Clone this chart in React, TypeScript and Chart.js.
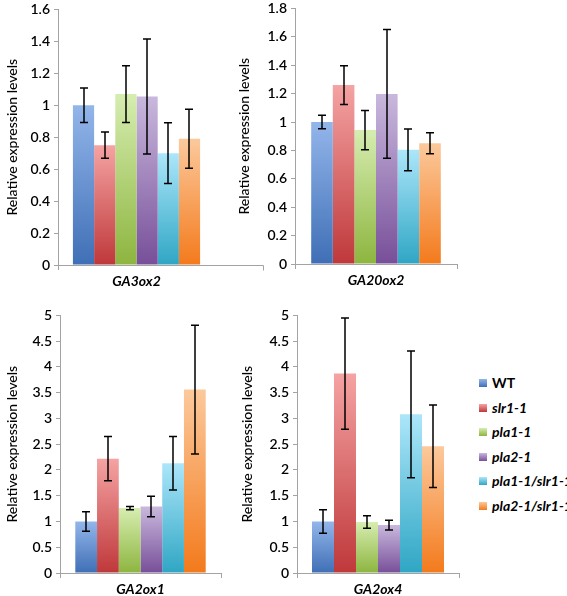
import React, { useEffect, useRef } from 'react';
import { Chart, registerables } from 'chart.js';

Chart.register(...registerables);

// ---------- data ----------
const genotypes = ['WT', 'slr1-1', 'pla1-1', 'pla2-1', 'pla1-1/slr1-1', 'pla2-1/slr1-1'];
const italicLabels = [false, true, true, true, true, true];
const topColors = ['#93b6ea', '#f5a3a3', '#d6edb0', '#c9b8dd', '#ace6fa', '#fcc99c'];
const bottomColors = ['#3f6fb6', '#bf383a', '#8db53f', '#774f99', '#2fa6c4', '#f37a1c'];

const yAxisTitle = 'Relative expression levels';

const geneA = 'GA3ox2';
const meansA = [1.0, 0.75, 1.07, 1.055, 0.7, 0.79];
const errorsA = [0.108, 0.082, 0.178, 0.36, 0.19, 0.185];

const geneB = 'GA20ox2';
const meansB = [1.0, 1.26, 0.943, 1.198, 0.804, 0.85];
const errorsB = [0.047, 0.136, 0.138, 0.454, 0.147, 0.074];

const geneC = 'GA2ox1';
const meansC = [1.0, 2.22, 1.26, 1.29, 2.13, 3.56];
const errorsC = [0.19, 0.43, 0.03, 0.2, 0.52, 1.25];

const geneD = 'GA2ox4';
const meansD = [1.0, 3.87, 0.99, 0.93, 3.08, 2.46];
const errorsD = [0.23, 1.08, 0.12, 0.095, 1.23, 0.8];

const yMaxTop = [1.6, 1.8];
const yStepTop = 0.2;
const yMaxBottom = 5;
const yStepBottom = 0.5;

// ---------- styling ----------
const axisColor = '#a3a3a3';
const FONT = 'Lato';

const errorBarPlugin = {
  id: 'errorBars',
  afterDatasetsDraw(chart: any) {
    const { ctx } = chart;
    const yScale = chart.scales.y;
    ctx.save();
    ctx.strokeStyle = '#000';
    ctx.lineWidth = 1.5;
    chart.data.datasets.forEach((ds: any, i: number) => {
      const meta = chart.getDatasetMeta(i);
      meta.data.forEach((bar: any, j: number) => {
        const v = ds.data[j];
        const e = ds.errors[j];
        const yT = yScale.getPixelForValue(v + e);
        const yB = yScale.getPixelForValue(v - e);
        const x = Math.round(bar.x);
        ctx.beginPath();
        ctx.moveTo(x, yT);
        ctx.lineTo(x, yB);
        ctx.moveTo(x - 4, yT);
        ctx.lineTo(x + 4, yT);
        ctx.moveTo(x - 4, yB);
        ctx.lineTo(x + 4, yB);
        ctx.stroke();
      });
    });
    ctx.restore();
  },
};

const axisExtendPlugin = {
  id: 'axisExtend',
  afterDraw(chart: any, _args: any, opts: any) {
    const ext = (opts && opts.extend) || 0;
    if (!ext) return;
    const { ctx, chartArea } = chart;
    const y = Math.round(chartArea.bottom - 0.5) + 0.5;
    const xEnd = Math.round(chartArea.right + ext) + 0.5;
    ctx.save();
    ctx.strokeStyle = axisColor;
    ctx.lineWidth = 1;
    ctx.beginPath();
    ctx.moveTo(chartArea.right, y);
    ctx.lineTo(xEnd, y);
    ctx.moveTo(xEnd, y);
    ctx.lineTo(xEnd, y + 5);
    ctx.stroke();
    ctx.restore();
  },
};

function gradientFor(i: number) {
  return (context: any) => {
    const chart = context.chart;
    const area = chart.chartArea;
    if (!area || context.type !== 'data') return bottomColors[i];
    const yScale = chart.scales.y;
    const v = context.parsed ? context.parsed.y : context.raw;
    const top = yScale.getPixelForValue(v);
    const g = chart.ctx.createLinearGradient(0, top, 0, area.bottom);
    g.addColorStop(0, topColors[i]);
    g.addColorStop(1, bottomColors[i]);
    return g;
  };
}

type PanelProps = {
  gene: string;
  means: number[];
  errors: number[];
  yMax: number;
  yStep: number;
  left: number;
  top: number;
  width: number;
  height: number;
  yAxisWidth: number;
  padRight: number;
  catPct: number;
  extend?: number;
};

function BarPanel(p: PanelProps) {
  const ref = useRef<HTMLCanvasElement | null>(null);
  useEffect(() => {
    if (!ref.current) return;
    const chart = new Chart(ref.current, {
      type: 'bar',
      data: {
        labels: [p.gene],
        datasets: genotypes.map((g, i) => ({
          label: g,
          data: [p.means[i]],
          errors: [p.errors[i]],
          backgroundColor: gradientFor(i),
          borderWidth: 0,
          categoryPercentage: p.catPct,
          barPercentage: 1,
        })) as any,
      },
      options: {
        responsive: false,
        animation: false,
        layout: { padding: { top: 0, right: p.padRight, left: 0, bottom: 0 } },
        plugins: {
          legend: { display: false },
          tooltip: { enabled: false },
          axisExtend: { extend: p.extend || 0 },
        } as any,
        scales: {
          x: {
            grid: {
              display: true,
              drawOnChartArea: false,
              drawTicks: true,
              tickLength: 5,
              offset: true,
              color: (c: any) => (p.extend && c.type !== 'tick' ? 'rgba(0,0,0,0)' : axisColor),
            },
            border: { color: axisColor },
            ticks: {
              font: { family: FONT, size: 14, style: 'italic', weight: 'bold' },
              color: '#000',
              padding: 3,
            },
            afterFit: (s: any) => {
              s.height = 27;
            },
          },
          y: {
            min: 0,
            max: p.yMax,
            ticks: {
              stepSize: p.yStep,
              font: { family: FONT, size: 14, weight: 600 },
              color: '#000',
              padding: 4,
              callback: (v: any) => String(Number(Number(v).toFixed(2))),
            },
            grid: { drawOnChartArea: false, tickLength: 4, color: axisColor },
            border: { color: axisColor },
            title: {
              display: true,
              text: yAxisTitle,
              font: { family: FONT, size: 14, weight: 500 },
              color: '#000',
              padding: { top: 4, bottom: 0 },
            },
            afterFit: (s: any) => {
              s.width = p.yAxisWidth;
            },
          },
        },
      } as any,
      plugins: [errorBarPlugin, axisExtendPlugin],
    });
    return () => chart.destroy();
  }, []);
  return (
    <div style={{ position: 'absolute', left: p.left, top: p.top, width: p.width, height: p.height }}>
      <canvas ref={ref} width={p.width} height={p.height} style={{ display: 'block' }} />
    </div>
  );
}

function Legend() {
  return (
    <div style={{ position: 'absolute', left: 479, top: 373, width: 100 }}>
      {genotypes.map((g, i) => (
        <div key={g} style={{ position: 'relative', height: 24.6, whiteSpace: 'nowrap' }}>
          <span
            style={{
              position: 'absolute',
              left: 0,
              top: 6,
              width: 8,
              height: 8,
              background: `linear-gradient(${topColors[i]}, ${bottomColors[i]})`,
            }}
          />
          <span
            style={{
              position: 'absolute',
              left: 13,
              top: 0,
              fontFamily: FONT,
              fontSize: 14,
              fontWeight: 'bold',
              fontStyle: italicLabels[i] ? 'italic' : 'normal',
              lineHeight: '20px',
              color: '#000',
            }}
          >
            {g}
          </span>
        </div>
      ))}
    </div>
  );
}

export default function App() {
  return (
    <div
      style={{
        position: 'absolute',
        left: 0,
        top: 0,
        width: 567,
        height: 596,
        overflow: 'hidden',
        background: '#fff',
      }}
    >
      <BarPanel gene={geneA} means={meansA} errors={errorsA} yMax={yMaxTop[0]} yStep={yStepTop}
        left={0} top={-3} width={268} height={295} yAxisWidth={58} padRight={53} catPct={0.81} extend={48} />
      <BarPanel gene={geneB} means={meansB} errors={errorsB} yMax={yMaxTop[1]} yStep={yStepTop}
        left={232} top={-4} width={230} height={295} yAxisWidth={63} padRight={5} catPct={0.8} />
      <BarPanel gene={geneC} means={meansC} errors={errorsC} yMax={yMaxBottom} yStep={yStepBottom}
        left={0} top={303} width={226} height={297} yAxisWidth={60} padRight={5} catPct={0.81} />
      <BarPanel gene={geneD} means={meansD} errors={errorsD} yMax={yMaxBottom} yStep={yStepBottom}
        left={235} top={303} width={229} height={297} yAxisWidth={62} padRight={5} catPct={0.815} />
      <Legend />
    </div>
  );
}
